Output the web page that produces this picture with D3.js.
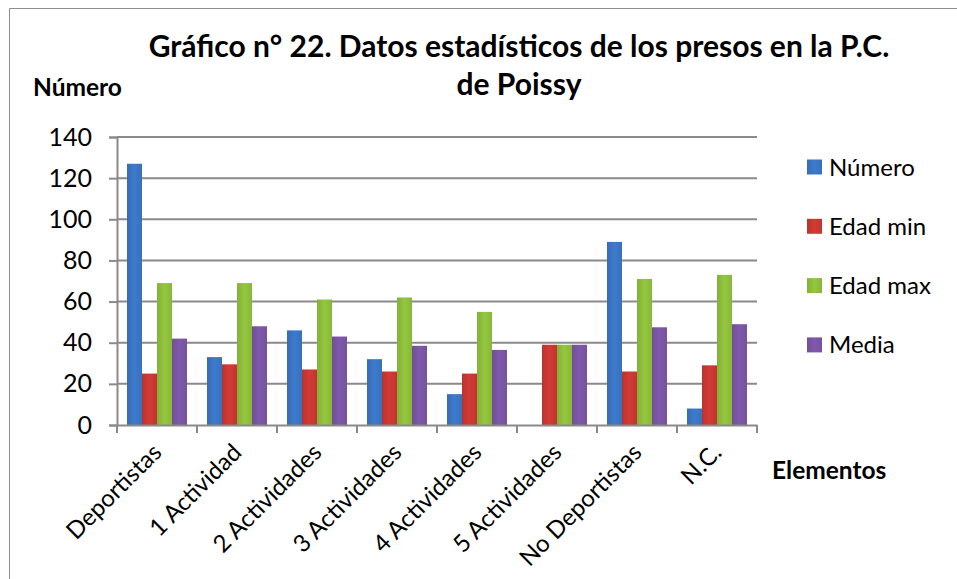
<!DOCTYPE html>
<meta charset="utf-8">
<head>
    <style>
        body, html {
            margin: 0;
            background: white;
            font-family: Lato, "Open Sans", sans-serif;
        }
        svg text { fill: #000; }
    </style>
    <script src="https://cdn.jsdelivr.net/npm/d3@7"></script>
</head>
<body>
<div id="chart"></div>
<script>
    var categories = ["Deportistas", "1 Actividad", "2 Actividades", "3 Actividades",
        "4 Actividades", "5 Actividades", "No Deportistas", "N.C."];
    var series = ["Número", "Edad min", "Edad max", "Media"];
    var numero   = [127, 33, 46, 32, 15, 0, 89, 8];
    var edadMin  = [25, 29.5, 27, 26, 25, 39, 26, 29];
    var edadMax  = [69, 69, 61, 62, 55, 39, 71, 73];
    var media    = [42, 48, 43, 38.5, 36.5, 39, 47.5, 49];
    var yTicks   = [0, 20, 40, 60, 80, 100, 120, 140];
    var colors   = ["#3b76c6", "#cc3833", "#8fc03d", "#7b56a6"];

    var values = [numero, edadMin, edadMax, media];
    var width = 957, height = 579;

    var svg = d3.select("#chart").append("svg")
        .attr("width", width)
        .attr("height", height);

    // frame (left and top only, the picture is cropped)
    svg.append("path")
        .attr("d", "M9.5," + height + "V8.5H" + width)
        .attr("fill", "none")
        .attr("stroke", "#8c8c8c")
        .attr("stroke-width", 1);

    var x0 = d3.scaleBand().domain(categories).range([117, 757]);
    var x1 = d3.scaleBand().domain(series).range([0, x0.bandwidth()])
        .paddingInner(0).paddingOuter(0.6667);
    var y = d3.scaleLinear().domain([0, 140]).range([425, 137]);

    // gridlines
    svg.append("g").selectAll("line")
        .data(yTicks.slice(1))
        .join("line")
        .attr("x1", 117).attr("x2", 757)
        .attr("y1", function(d){ return y(d); })
        .attr("y2", function(d){ return y(d); })
        .attr("stroke", "#8a8a8a")
        .attr("stroke-width", 2);

    // gradients for the bars
    var defs = svg.append("defs");
    colors.forEach(function(c, i){
        var g = defs.append("linearGradient").attr("id", "g" + i)
            .attr("x1", 0).attr("x2", 1).attr("y1", 0).attr("y2", 0);
        g.append("stop").attr("offset", "0%").attr("stop-color", d3.color(c).darker(0.25));
        g.append("stop").attr("offset", "50%").attr("stop-color", d3.color(c).brighter(0.1));
        g.append("stop").attr("offset", "100%").attr("stop-color", d3.color(c).darker(0.15));
    });

    // bars
    var groups = svg.append("g").selectAll("g")
        .data(categories)
        .join("g")
        .attr("transform", function(d){ return "translate(" + x0(d) + ",0)"; });

    groups.selectAll("rect")
        .data(function(d, ci){ return series.map(function(s, si){ return {s: s, i: si, v: values[si][ci]}; }); })
        .join("rect")
        .attr("x", function(d){ return x1(d.s); })
        .attr("width", x1.bandwidth())
        .attr("y", function(d){ return y(d.v); })
        .attr("height", function(d){ return y(0) - y(d.v); })
        .attr("fill", function(d){ return "url(#g" + d.i + ")"; });

    // y axis
    var yAxis = svg.append("g")
        .attr("transform", "translate(117,0)")
        .call(d3.axisLeft(y).tickValues(yTicks).tickSize(8).tickPadding(17));
    yAxis.select(".domain").attr("stroke", "#8a8a8a").attr("stroke-width", 2);
    yAxis.selectAll(".tick line").attr("stroke", "#8a8a8a").attr("stroke-width", 2);
    yAxis.selectAll("text")
        .style("font-family", "Lato, sans-serif")
        .style("font-size", "25px");

    // x axis
    var xAxis = svg.append("g")
        .attr("transform", "translate(0,425)")
        .call(d3.axisBottom(x0).tickSize(0).tickFormat(""));
    xAxis.select(".domain").attr("stroke", "#8a8a8a").attr("stroke-width", 2);
    xAxis.selectAll(".tick").remove();
    xAxis.selectAll(".sep")
        .data(d3.range(categories.length + 1))
        .join("line")
        .attr("class", "sep")
        .attr("x1", function(i){ return 117 + i * x0.step(); })
        .attr("x2", function(i){ return 117 + i * x0.step(); })
        .attr("y1", 0).attr("y2", 8)
        .attr("stroke", "#8a8a8a")
        .attr("stroke-width", 2);

    svg.append("g").selectAll("text")
        .data(categories)
        .join("text")
        .attr("transform", function(d){
            return "translate(" + (x0(d) + x0.bandwidth() / 2 + 6) + ",454) rotate(-45)";
        })
        .attr("text-anchor", "end")
        .style("font-size", "24px")
        .text(function(d){ return d; });

    // titles
    svg.append("text")
        .attr("x", 519).attr("y", 57)
        .attr("text-anchor", "middle")
        .style("font-size", "30px").style("font-weight", "bold")
        .text("Gráfico n° 22. Datos estadísticos de los presos en la P.C.");
    svg.append("text")
        .attr("x", 519).attr("y", 95)
        .attr("text-anchor", "middle")
        .style("font-size", "30px").style("font-weight", "bold")
        .text("de Poissy");
    svg.append("text")
        .attr("x", 33).attr("y", 96)
        .style("font-size", "24.5px").style("font-weight", "bold")
        .text("Número");
    svg.append("text")
        .attr("x", 772).attr("y", 479)
        .style("font-size", "24.5px").style("font-weight", "bold")
        .text("Elementos");

    // legend
    var legend = svg.append("g").selectAll("g")
        .data(series)
        .join("g")
        .attr("transform", function(d, i){ return "translate(807," + (167 + i * 59.3) + ")"; });
    legend.append("rect")
        .attr("x", 0).attr("y", -7.5)
        .attr("width", 15).attr("height", 15)
        .attr("fill", function(d, i){ return "url(#g" + i + ")"; });
    legend.append("text")
        .attr("x", 22).attr("y", 8.5)
        .style("font-size", "24px")
        .text(function(d){ return d; });
</script>
</body>
